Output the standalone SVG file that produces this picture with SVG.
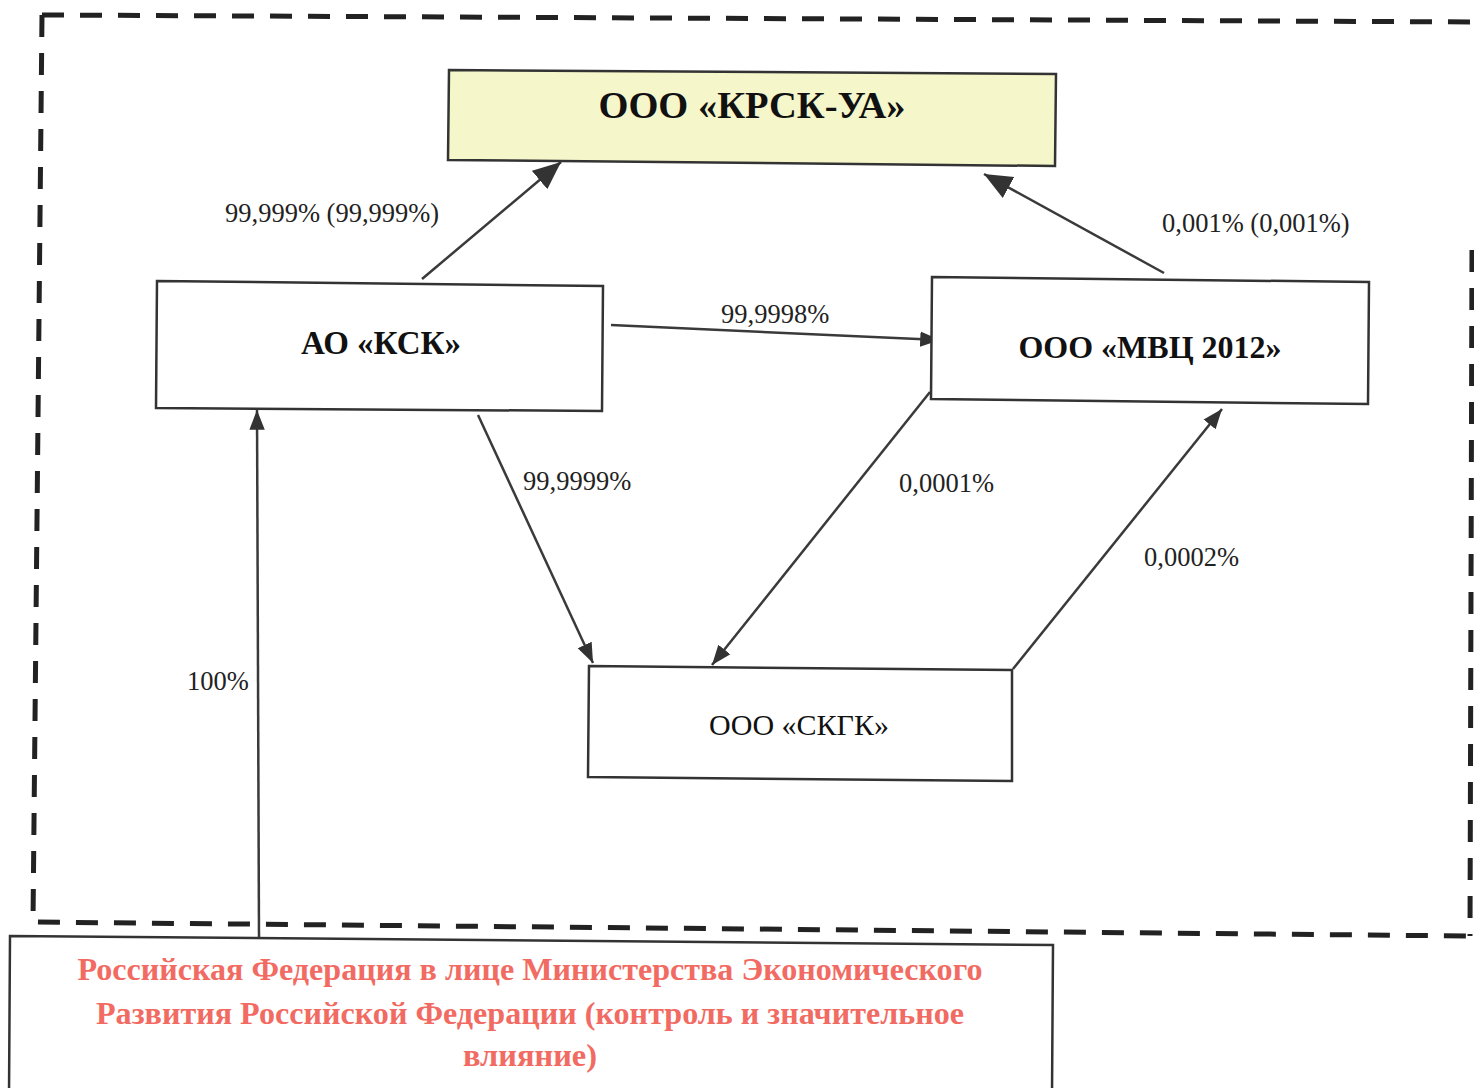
<svg xmlns="http://www.w3.org/2000/svg" width="1474" height="1088" viewBox="0 0 1474 1088">
<defs>
<style>
.box{stroke:#333;stroke-width:2.5;fill:#fff}
.conn{stroke:#3a3a3a;stroke-width:2.5;fill:none}
.lbl{font-family:"Liberation Serif","Times New Roman",serif;font-size:26.5px;fill:#222}
.nt{font-family:"Liberation Serif","Times New Roman",serif;font-weight:bold;fill:#111;text-anchor:middle}
.red{font-family:"Liberation Serif","Times New Roman",serif;font-weight:bold;font-size:31px;fill:#f26b63;text-anchor:middle}
</style>
<marker id="big" markerUnits="userSpaceOnUse" markerWidth="32" markerHeight="26" refX="28" refY="12" orient="auto" viewBox="0 0 32 24">
<path d="M0,0 L28,12 L0,24 Z" fill="#333"/>
</marker>
<marker id="small" markerUnits="userSpaceOnUse" markerWidth="22" markerHeight="18" refX="18" refY="7" orient="auto" viewBox="0 0 20 14">
<path d="M0,0 L18,7 L0,14 Z" fill="#333"/>
</marker>
</defs>
<rect width="1474" height="1088" fill="#fff"/>
<path d="M42,15 L1474,22 M42,15 L33,922 L1468,936 M1472,250 L1470,936" fill="none" stroke="#222" stroke-width="5" stroke-dasharray="22,16"/>
<g id="connectors">
<line class="conn" x1="422" y1="279" x2="561" y2="162" marker-end="url(#big)"/>
<line class="conn" x1="1164" y1="273" x2="984" y2="174" marker-end="url(#big)"/>
<line class="conn" x1="611" y1="325" x2="940" y2="340" marker-end="url(#small)"/>
<line class="conn" x1="478" y1="415" x2="593" y2="663" marker-end="url(#small)"/>
<line class="conn" x1="930" y1="392" x2="712" y2="665" marker-end="url(#small)"/>
<line class="conn" x1="1013" y1="669" x2="1222" y2="409" marker-end="url(#small)"/>
<line class="conn" x1="259" y1="937" x2="257" y2="410" marker-end="url(#small)"/>
<text class="lbl" x="225" y="222">99,999% (99,999%)</text>
<text class="lbl" x="1162" y="232">0,001% (0,001%)</text>
<text class="lbl" x="721" y="323">99,9998%</text>
<text class="lbl" x="523" y="490">99,9999%</text>
<text class="lbl" x="899" y="492">0,0001%</text>
<text class="lbl" x="1144" y="566">0,0002%</text>
<text class="lbl" x="187" y="690">100%</text>
</g>
<g id="krsk-ua">
<polygon class="box" points="449,70 1056,74 1055,166 448,160" style="fill:#f6f6cb"/>
<text class="nt" x="752" y="118" font-size="38.5">ООО «КРСК-УА»</text>
</g>
<g id="ksk">
<polygon class="box" points="157,281 603,286 602,411 156,408"/>
<text class="nt" x="381" y="354" font-size="33">АО «КСК»</text>
</g>
<g id="mvc">
<polygon class="box" points="932,277 1369,282 1368,404 931,399"/>
<text class="nt" x="1150" y="358" font-size="32">ООО «МВЦ 2012»</text>
</g>
<g id="skgk">
<polygon class="box" points="589,666 1012,670 1012,781 588,777"/>
<text class="nt" x="799" y="735" font-size="30" style="font-weight:normal">ООО «СКГК»</text>
</g>
<g id="rf">
<polygon class="box" points="10,936 1053,945 1052,1095 9,1095"/>
<text class="red" x="530" y="980" textLength="905" lengthAdjust="spacingAndGlyphs">Российская Федерация в лице Министерства Экономического</text>
<text class="red" x="530" y="1024" textLength="868" lengthAdjust="spacingAndGlyphs">Развития Российской Федерации (контроль и значительное</text>
<text class="red" x="530" y="1066" textLength="134" lengthAdjust="spacingAndGlyphs">влияние)</text>
</g>
</svg>
